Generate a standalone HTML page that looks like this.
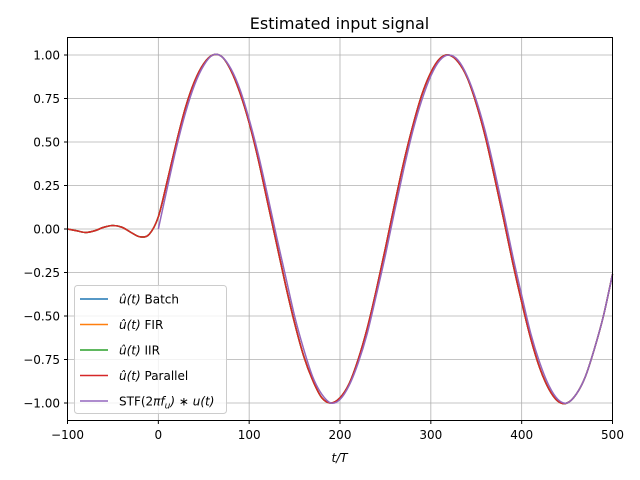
<!DOCTYPE html>
<html><head><meta charset="utf-8"><style>
body{margin:0;background:#fff}
svg{display:block;font-family:"DejaVu Sans","Liberation Sans",sans-serif}
</style></head><body>
<svg id="chart" width="640" height="480" xmlns="http://www.w3.org/2000/svg">
<rect width="640" height="480" fill="#fff"/>
<text x="339.5" y="29" text-anchor="middle" font-size="16">Estimated input signal</text>
<g id="grid"></g>
<g id="series"></g>
<rect x="67.5" y="37.5" width="545" height="383" fill="none" stroke="#000" stroke-width="1"/>
<g id="ticks"></g>
<text x="339.5" y="462" text-anchor="middle" font-size="12" font-style="italic">t/T</text>
<g id="legend"></g>
</svg>
<script>
const xTicks=[-100,0,100,200,300,400,500];
const yTicks=[-1.00,-0.75,-0.50,-0.25,0.00,0.25,0.50,0.75,1.00];
const estT=[-100,-90,-80,-70,-60,-50,-40,-30,-20,-10,0,10,20,30,40,50,60,70,80,90,100,110,120,130,140,150,160,170,180,190,200,210,220,230,240,250,260,270,280,290,300,310,320,330,340,350,360,370,380,390,400,410,420,430,440,450,460,470,480,490,500];
const estV=[0,-0.01,-0.02,-0.01,0.01,0.02,0.01,-0.02,-0.045,-0.03,0.07,0.28,0.50,0.70,0.85,0.95,1.00,0.99,0.91,0.78,0.61,0.40,0.16,-0.08,-0.32,-0.54,-0.73,-0.87,-0.97,-1.00,-0.97,-0.89,-0.75,-0.57,-0.35,-0.11,0.14,0.38,0.59,0.77,0.90,0.98,1.00,0.96,0.87,0.72,0.53,0.30,0.06,-0.19,-0.42,-0.63,-0.80,-0.92,-0.99,-1.00,-0.95,-0.85,-0.69,-0.50,-0.26];
const stfT=[0,10,20,30,40,50,60,70,80,90,100,110,120,130,140,150,160,170,180,190,200,210,220,230,240,250,260,270,280,290,300,310,320,330,340,350,360,370,380,390,400,410,420,430,440,450,460,470,480,490,500];
const stfV=[0,0.24,0.47,0.67,0.83,0.94,1.00,0.99,0.92,0.80,0.63,0.43,0.20,-0.04,-0.27,-0.50,-0.69,-0.85,-0.95,-1.00,-0.98,-0.90,-0.77,-0.60,-0.38,-0.15,0.10,0.34,0.56,0.74,0.88,0.97,1.00,0.97,0.88,0.74,0.56,0.34,0.10,-0.15,-0.38,-0.60,-0.77,-0.90,-0.98,-1.00,-0.95,-0.85,-0.69,-0.50,-0.26];
const names=["Batch","FIR","IIR","Parallel"];
const colors=["#1f77b4","#ff7f0e","#2ca02c","#d62728","#9467bd"];
const X=t=>67.5+(t+100)/600*545;
const Y=v=>229+(-v)*174;
const NS="http://www.w3.org/2000/svg";
function mk(tag,attrs,parent){const e=document.createElementNS(NS,tag);for(const k in attrs)e.setAttribute(k,attrs[k]);parent.appendChild(e);return e;}
const grid=document.getElementById('grid'),ticks=document.getElementById('ticks');
xTicks.forEach(t=>{
  const g=mk('line',{x1:X(t),x2:X(t),y1:37.5,y2:420.5,stroke:'#b0b0b0','stroke-width':0.8},grid);
  
  
  const tk=mk('line',{x1:X(t),x2:X(t),y1:420.5,y2:424,stroke:'#000'},ticks);
  
  
  const lb=mk('text',{x:X(t),y:439,'text-anchor':'middle','font-size':12},ticks);
  lb.textContent=(t<0?'\u2212':'')+Math.abs(t);
  
  
});
yTicks.forEach(v=>{
  const g=mk('line',{x1:67.5,x2:612.5,y1:Y(v),y2:Y(v),stroke:'#b0b0b0','stroke-width':0.8},grid);
  
  
  const tk=mk('line',{x1:64,x2:67.5,y1:Y(v),y2:Y(v),stroke:'#000'},ticks);
  
  
  const lb=mk('text',{x:60,y:Y(v)+4.5,'text-anchor':'end','font-size':12},ticks);
  lb.textContent=(v<0?'\u2212':'')+Math.abs(v).toFixed(2);
  
  
});
function pathFor(ts,vs){
  const p=ts.map((t,i)=>[X(t),Y(vs[i])]);
  let d='M'+p[0][0]+','+p[0][1];
  for(let i=0;i<p.length-1;i++){
    const p0=p[Math.max(0,i-1)],p1=p[i],p2=p[i+1],p3=p[Math.min(p.length-1,i+2)];
    const c1=[p1[0]+(p2[0]-p0[0])/6,p1[1]+(p2[1]-p0[1])/6];
    const c2=[p2[0]-(p3[0]-p1[0])/6,p2[1]-(p3[1]-p1[1])/6];
    d+=' C'+c1[0]+','+c1[1]+' '+c2[0]+','+c2[1]+' '+p2[0]+','+p2[1];
  }
  return d;
}
const sg=document.getElementById('series');
names.forEach((n,i)=>{
  const e=mk('path',{d:pathFor(estT,estV),fill:'none',stroke:colors[i],'stroke-width':1.5},sg);
  
  
});
const ps=mk('path',{d:pathFor(stfT,stfV),fill:'none',stroke:colors[4],'stroke-width':1.5},sg);


const lg=document.getElementById('legend');
const box=mk('rect',{x:74.5,y:285.5,width:152,height:128,rx:3,fill:'#fff','fill-opacity':0.8,stroke:'#ccc'},lg);


const labels=names.map(n=>'<tspan font-style="italic">\u00fb(t)</tspan> '+n).concat(['STF(2<tspan font-style="italic">\u03c0f<tspan font-size="9" dy="3">u</tspan><tspan dy="-3">) \u2217 u(t)</tspan></tspan>']);
labels.forEach((l,i)=>{
  const y=299+i*25.5;
  const ln=mk('line',{x1:80,x2:108,y1:y,y2:y,stroke:colors[i],'stroke-width':1.5},lg);
  
  
  const tx=mk('text',{x:119,y:y+4.5,'font-size':12},lg);
  tx.innerHTML=l;
  
  
});
</script>
</body></html>
